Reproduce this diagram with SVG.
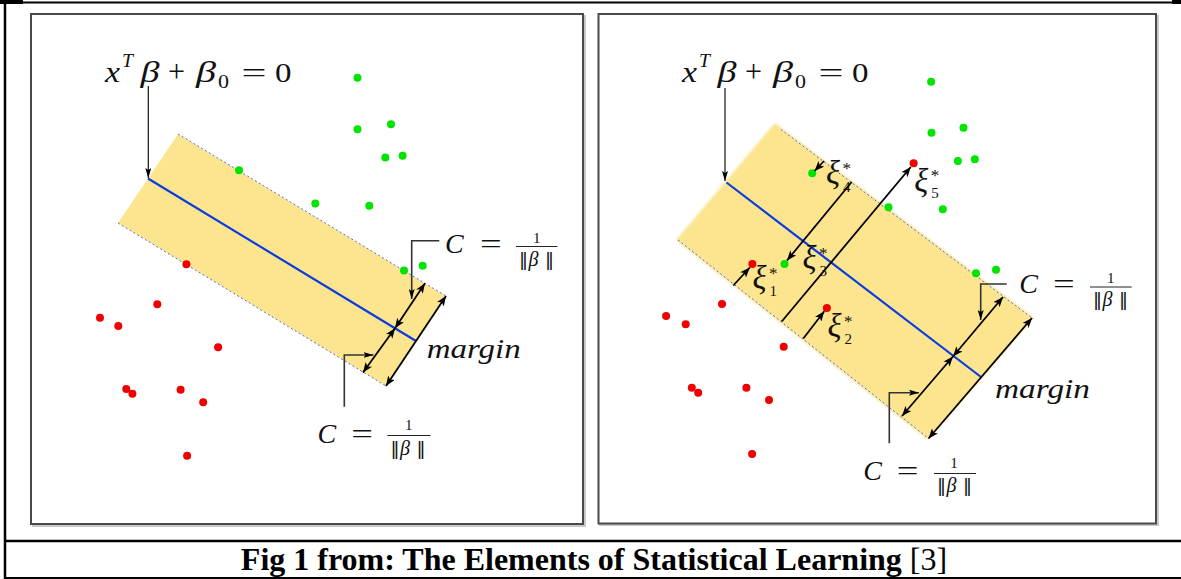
<svg xmlns="http://www.w3.org/2000/svg" width="1181" height="579" viewBox="0 0 1181 579">
<style>
.frame{stroke:#000;fill:none}
.panel{fill:#fff;stroke:#4a4a4a;stroke-width:2}
.shadow{stroke:#b8b8b8;stroke-width:1.5;fill:none}
.band{fill:#fde58f}
.edge{stroke:#3a5ff0;stroke-width:0.9;stroke-dasharray:2 2.5;fill:none}
.mid{stroke:#0a3be0;stroke-width:2.2;fill:none}
.g{fill:#00e400}
.r{fill:#f00000}
.arr{stroke:#000;stroke-width:1.8;fill:none}
.lab{stroke:#111;stroke-width:1.2;fill:none}
.brk{stroke:#333;stroke-width:1.6;fill:none}
.m{font-family:"Liberation Serif","DejaVu Serif",serif;fill:#111}
.it{font-style:italic}
.nb{font-family:"DejaVu Sans",sans-serif;font-style:normal}
.bar{stroke:#222;stroke-width:1.2}
.cap{font-family:"Liberation Serif","Times New Roman",serif;font-size:32px;fill:#000}
</style>
<defs>
<marker id="ah" markerUnits="userSpaceOnUse" markerWidth="10" markerHeight="8" refX="10" refY="4" orient="auto-start-reverse">
<path d="M0,0 L10,4 L0,8 L2.5,4 z" fill="#000"/>
</marker>
<marker id="ahs" markerUnits="userSpaceOnUse" markerWidth="10" markerHeight="6" refX="10" refY="3" orient="auto-start-reverse">
<path d="M0,0 L10,3 L0,6 L2,3 z" fill="#000"/>
</marker>
<filter id="soft" x="-5%" y="-5%" width="110%" height="110%"><feGaussianBlur stdDeviation="1.3"/></filter>
</defs>

<g id="frame">
<rect x="0" y="0" width="23" height="4" fill="#000"/>
<rect x="1172" y="0" width="9" height="4" fill="#000"/>
<line class="frame" x1="0" y1="2.5" x2="1181" y2="2.5" stroke-width="2"/>
<line class="frame" x1="5" y1="0" x2="5" y2="579" stroke-width="2.5"/>
<line class="frame" x1="4" y1="541" x2="1181" y2="541" stroke-width="2.5"/>
<line class="frame" x1="4" y1="578" x2="1181" y2="578" stroke-width="2"/>
</g>

<g id="caption">
<text class="cap" x="594" y="570" text-anchor="middle"><tspan font-weight="bold">Fig 1 from: The Elements of Statistical Learning </tspan><tspan>[3]</tspan></text>
</g>

<g id="panel-left">
<polyline class="shadow" points="585,15 585,526 32,526"/>
<rect class="panel" x="31" y="14" width="552" height="510"/>
<g id="band-left">
<polygon class="band" points="178,134 446,296 386,386 118,223"/>
<line class="edge" x1="178" y1="134" x2="446" y2="296"/>
<line class="edge" x1="118" y1="223" x2="386" y2="386"/>
<line class="mid" x1="148" y1="178.5" x2="416" y2="341"/>
</g>
<g id="points-left">
<circle class="g" cx="357.5" cy="77.7" r="4"/>
<circle class="g" cx="357.5" cy="129.3" r="4"/>
<circle class="g" cx="391" cy="124.3" r="4"/>
<circle class="g" cx="385.3" cy="157.5" r="4"/>
<circle class="g" cx="402.6" cy="155.7" r="4"/>
<circle class="g" cx="239" cy="170.2" r="4"/>
<circle class="g" cx="315.3" cy="203.5" r="4"/>
<circle class="g" cx="369.3" cy="205.8" r="4"/>
<circle class="g" cx="404" cy="270.5" r="4"/>
<circle class="g" cx="422.7" cy="265.7" r="4"/>
<circle class="r" cx="186.4" cy="264.3" r="4"/>
<circle class="r" cx="157.3" cy="304.3" r="4"/>
<circle class="r" cx="100" cy="317.7" r="4"/>
<circle class="r" cx="118.3" cy="326" r="4"/>
<circle class="r" cx="218.1" cy="347.3" r="4"/>
<circle class="r" cx="126.3" cy="389" r="4"/>
<circle class="r" cx="132.4" cy="393.7" r="4"/>
<circle class="r" cx="180.6" cy="389.7" r="4"/>
<circle class="r" cx="203.2" cy="402.3" r="4"/>
<circle class="r" cx="187.1" cy="455.7" r="4"/>
</g>
<g id="labels-left">
<text class="m it" x="105" y="82" font-size="30" textLength="15" lengthAdjust="spacingAndGlyphs">x</text>
<text class="m it" x="122" y="67" font-size="19" textLength="11" lengthAdjust="spacingAndGlyphs">T</text>
<text class="m it" x="140.5" y="82" font-size="30" textLength="19" lengthAdjust="spacingAndGlyphs">β</text>
<text class="m" x="168" y="82" font-size="31" textLength="17" lengthAdjust="spacingAndGlyphs">+</text>
<text class="m it" x="196" y="82" font-size="30" textLength="20" lengthAdjust="spacingAndGlyphs">β</text>
<text class="m" x="218" y="88" font-size="18" textLength="11" lengthAdjust="spacingAndGlyphs">0</text>
<text class="m" x="241.5" y="82" font-size="28" textLength="25" lengthAdjust="spacingAndGlyphs">=</text>
<text class="m" x="275" y="82" font-size="27" textLength="16.5" lengthAdjust="spacingAndGlyphs">0</text>

<text class="m it" x="445" y="253" font-size="28">C</text>
<text class="m" x="480" y="253" font-size="27" textLength="21.7" lengthAdjust="spacingAndGlyphs">=</text>
<text class="m" x="536.7" y="243.3" font-size="15" text-anchor="middle">1</text>
<line class="bar" x1="516" y1="246.5" x2="557.3" y2="246.5"/>
<text class="m" font-size="18"><tspan class="nb" x="519" y="266">‖</tspan><tspan class="it" x="528.5" y="266" font-size="20">β</tspan><tspan class="nb" x="545" y="266">‖</tspan></text>

<text class="m it" x="317.6" y="443.3" font-size="28">C</text>
<text class="m" x="351.3" y="443.3" font-size="27" textLength="21.7" lengthAdjust="spacingAndGlyphs">=</text>
<text class="m" x="408.7" y="430" font-size="15" text-anchor="middle">1</text>
<line class="bar" x1="387.3" y1="435.5" x2="430.5" y2="435.5"/>
<text class="m" font-size="18"><tspan class="nb" x="390.5" y="455">‖</tspan><tspan class="it" x="400" y="455" font-size="20">β</tspan><tspan class="nb" x="416.5" y="455">‖</tspan></text>

<text class="m it" x="426.7" y="358.3" font-size="28" textLength="94" lengthAdjust="spacingAndGlyphs">margin</text>
</g>
</g>

<g id="panel-right">
<polyline class="shadow" points="1158,15 1158,525 599,525"/>
<rect class="panel" x="598.5" y="14" width="557.5" height="509.5"/>
<g id="band-right">
<polygon class="band" points="775,125 1032,318 928,438 678,240" fill="#fce592" filter="url(#soft)" stroke="#fce592" stroke-width="3" stroke-linejoin="round"/>
<line class="edge" x1="781" y1="129.5" x2="1032" y2="318"/>
<line class="edge" x1="678" y1="240" x2="928" y2="438"/>
<line class="mid" x1="726.5" y1="182.5" x2="981" y2="377"/>
</g>
<g id="points-right">
<circle class="g" cx="931.1" cy="81.7" r="4"/>
<circle class="g" cx="931.5" cy="132.7" r="4"/>
<circle class="g" cx="963.5" cy="127.7" r="4"/>
<circle class="g" cx="957.9" cy="161" r="4"/>
<circle class="g" cx="974.8" cy="159.3" r="4"/>
<circle class="g" cx="888.5" cy="207.3" r="4"/>
<circle class="g" cx="942.8" cy="209.3" r="4"/>
<circle class="g" cx="976" cy="273.3" r="4"/>
<circle class="g" cx="996" cy="269.8" r="4"/>
<circle class="g" cx="812.2" cy="173.3" r="4"/>
<circle class="g" cx="784.5" cy="264" r="4"/>
<circle class="r" cx="913.6" cy="163.3" r="4"/>
<circle class="r" cx="752.4" cy="264" r="4"/>
<circle class="r" cx="826.9" cy="308" r="4"/>
<circle class="r" cx="722" cy="304" r="4"/>
<circle class="r" cx="666.1" cy="316" r="4"/>
<circle class="r" cx="685.7" cy="324.3" r="4"/>
<circle class="r" cx="783.7" cy="346.7" r="4"/>
<circle class="r" cx="691.8" cy="387.7" r="4"/>
<circle class="r" cx="698.2" cy="392.7" r="4"/>
<circle class="r" cx="746.4" cy="387.7" r="4"/>
<circle class="r" cx="769" cy="400" r="4"/>
<circle class="r" cx="752.1" cy="454" r="4"/>
</g>
<g id="labels-right">
<text class="m it" x="682" y="82" font-size="30" textLength="15" lengthAdjust="spacingAndGlyphs">x</text>
<text class="m it" x="699" y="67" font-size="19" textLength="11" lengthAdjust="spacingAndGlyphs">T</text>
<text class="m it" x="717.5" y="82" font-size="30" textLength="19" lengthAdjust="spacingAndGlyphs">β</text>
<text class="m" x="745" y="82" font-size="31" textLength="17" lengthAdjust="spacingAndGlyphs">+</text>
<text class="m it" x="773" y="82" font-size="30" textLength="20" lengthAdjust="spacingAndGlyphs">β</text>
<text class="m" x="795" y="88" font-size="18" textLength="11" lengthAdjust="spacingAndGlyphs">0</text>
<text class="m" x="818.5" y="82" font-size="28" textLength="25" lengthAdjust="spacingAndGlyphs">=</text>
<text class="m" x="852" y="82" font-size="27" textLength="16.5" lengthAdjust="spacingAndGlyphs">0</text>

<text class="m it" x="1019.3" y="293.3" font-size="28">C</text>
<text class="m" x="1053" y="293.3" font-size="27" textLength="21.7" lengthAdjust="spacingAndGlyphs">=</text>
<text class="m" x="1110.7" y="282.7" font-size="15" text-anchor="middle">1</text>
<line class="bar" x1="1090" y1="287" x2="1131.7" y2="287"/>
<text class="m" font-size="18"><tspan class="nb" x="1093" y="306">‖</tspan><tspan class="it" x="1102.5" y="306" font-size="20">β</tspan><tspan class="nb" x="1119" y="306">‖</tspan></text>

<text class="m it" x="863.3" y="480" font-size="28">C</text>
<text class="m" x="896.7" y="480" font-size="27" textLength="21.7" lengthAdjust="spacingAndGlyphs">=</text>
<text class="m" x="954" y="468.3" font-size="15" text-anchor="middle">1</text>
<line class="bar" x1="934" y1="473.5" x2="976" y2="473.5"/>
<text class="m" font-size="18"><tspan class="nb" x="937" y="492">‖</tspan><tspan class="it" x="946.5" y="492" font-size="20">β</tspan><tspan class="nb" x="963" y="492">‖</tspan></text>

<text class="m it" x="995" y="398.3" font-size="28" textLength="95" lengthAdjust="spacingAndGlyphs">margin</text>

<text class="m it" x="826" y="183.5" font-size="33" textLength="14" lengthAdjust="spacingAndGlyphs">ξ</text>
<text class="m" x="842.5" y="174" font-size="17">*</text>
<text class="m" x="843" y="191.5" font-size="15">4</text>
<text class="m it" x="914.3" y="191.5" font-size="33" textLength="14" lengthAdjust="spacingAndGlyphs">ξ</text>
<text class="m" x="930.8" y="180.5" font-size="17">*</text>
<text class="m" x="931.3" y="198" font-size="15">5</text>
<text class="m it" x="802.6" y="268.5" font-size="33" textLength="14" lengthAdjust="spacingAndGlyphs">ξ</text>
<text class="m" x="819.1" y="258.7" font-size="17">*</text>
<text class="m" x="819.6" y="276" font-size="15">3</text>
<text class="m it" x="752.6" y="288.5" font-size="33" textLength="14" lengthAdjust="spacingAndGlyphs">ξ</text>
<text class="m" x="769.1" y="278.7" font-size="17">*</text>
<text class="m" x="769.6" y="296" font-size="15">1</text>
<text class="m it" x="827.6" y="336.5" font-size="33" textLength="14" lengthAdjust="spacingAndGlyphs">ξ</text>
<text class="m" x="844.1" y="327" font-size="17">*</text>
<text class="m" x="844.6" y="344.3" font-size="15">2</text>
</g>
</g>

<g id="connectors">
<line class="lab" x1="148.3" y1="86" x2="148.3" y2="178" marker-end="url(#ahs)"/>
<polyline class="brk" points="439.3,240.7 411.7,240.7 411.7,299" marker-end="url(#ahs)"/>
<polyline class="brk" points="344.3,406.7 344.3,355 373.5,355" marker-end="url(#ahs)"/>
<line class="arr" x1="363" y1="372.5" x2="395" y2="328.3" marker-start="url(#ah)" marker-end="url(#ah)"/>
<line class="arr" x1="395" y1="328.3" x2="425" y2="283.3" marker-start="url(#ah)" marker-end="url(#ah)"/>
<line class="arr" x1="386" y1="386" x2="446" y2="296" marker-start="url(#ah)" marker-end="url(#ah)"/>

<line class="lab" x1="725" y1="88" x2="725" y2="181" marker-end="url(#ahs)"/>
<polyline class="brk" points="1006.7,284 980.7,284 980.7,320" stroke="#555" marker-end="url(#ahs)"/>
<polyline class="brk" points="889.3,443.3 889.3,392.7 919,392.7" marker-end="url(#ahs)"/>
<line class="arr" x1="902" y1="416" x2="953" y2="356.5" marker-start="url(#ah)" marker-end="url(#ah)"/>
<line class="arr" x1="953" y1="356.5" x2="1003" y2="297" marker-start="url(#ah)" marker-end="url(#ah)"/>
<line class="arr" x1="928.5" y1="438.5" x2="1032" y2="318" marker-start="url(#ah)" marker-end="url(#ah)"/>

<line class="arr" x1="824" y1="161" x2="814.5" y2="171" marker-end="url(#ah)"/>
<line class="arr" x1="851.7" y1="182" x2="787" y2="260.5" marker-end="url(#ah)"/>
<line class="arr" x1="781.7" y1="321.5" x2="910.8" y2="167" marker-end="url(#ah)"/>
<line class="arr" x1="733.3" y1="285.5" x2="749.8" y2="267.5" marker-end="url(#ah)"/>
<line class="arr" x1="803.3" y1="338.5" x2="824.3" y2="311.3" marker-end="url(#ah)"/>
</g>
</svg>
